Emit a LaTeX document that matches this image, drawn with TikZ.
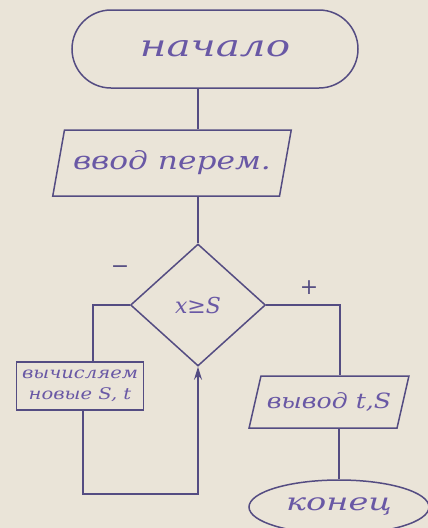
\documentclass[tikz,border=0pt]{standalone}
\usepackage{fontspec}
\usepackage{graphicx}
\setmainfont{DejaVu Serif}
\usetikzlibrary{shapes.geometric,shapes.misc,arrows.meta,calc}
\definecolor{paper}{RGB}{234,228,216}
\definecolor{ink}{RGB}{84,76,130}
\definecolor{txtink}{RGB}{105,88,165}
\begin{document}
\begin{tikzpicture}[x=1pt,y=-1pt,
  every node/.style={font=\itshape, text=txtink},
  line/.style={draw=ink, line width=1.5pt},
  term/.style={line, rounded rectangle, inner sep=0pt},
  endterm/.style={line, ellipse, inner sep=0pt},
  io/.style={line, trapezium, trapezium stretches=true, inner sep=0pt},
  proc/.style={line, rectangle, inner sep=0pt},
  cond/.style={line, diamond, inner sep=0pt},
  sign/.style={font=\fontsize{22}{22}\selectfont, text=ink}]
\fill[paper] (0,0) rectangle (428,528);
\clip (0,0) rectangle (428,528);
\useasboundingbox (0,0) rectangle (428,528);

\node[term, minimum width=286pt, minimum height=78pt] (start) at (215,49)
  {\scalebox{1.35}[1]{\fontsize{30}{30}\selectfont начало}};

\node[io, trapezium left angle=66, trapezium right angle=114,
  minimum width=239pt, minimum height=66pt] (input) at (172,163)
  {\scalebox{1.25}[1]{\fontsize{25}{25}\selectfont ввод перем.}};

\node[cond, minimum width=135pt, minimum height=122pt] (cond) at (198,305)
  {\fontsize{22}{22}\selectfont x≥S};

\node[proc, minimum width=127pt, minimum height=48pt, align=center,
  font=\itshape\fontsize{16}{21}\selectfont] (calc) at (80,386)
  {\scalebox{1.22}[1]{вычисляем}\\
   \scalebox{1.22}[1]{новые S, t}};

\node[io, trapezium left angle=60, trapezium right angle=120,
  minimum width=160pt, minimum height=52pt] (out) at (329,402)
  {\scalebox{1.2}[1]{\fontsize{21}{21}\selectfont вывод t,S}};

\node[endterm, minimum width=180pt, minimum height=54pt] (stop) at (339,507)
  {\scalebox{1.4}[1]{\fontsize{24}{24}\selectfont конец}};

\node[sign] (minus) at (120,270) {−};
\node[sign] (plus) at (309,288) {+};

\coordinate (low) at (0,494);
\coordinate (cs) at ($(calc.south)+(3,0)$);
\coordinate (cn) at ($(calc.north)+(13,0)$);
\coordinate (on) at ($(out.north)+(11,0)$);
\coordinate (os) at ($(out.south)+(10,0)$);

\draw[line] (start.south -| cond.north) -- (input.north -| cond.north);
\draw[line] (input.south -| cond.north) -- (cond.north);
\draw[line] (cond.west) -| (cn);
\draw[line, -{Stealth[length=13pt,width=8pt]}] (cs) -- (cs |- low) -| (cond.south);
\draw[line] (cond.east) -| (on);
\draw[line] (os) -- (os |- stop.north);
\end{tikzpicture}
\end{document}
